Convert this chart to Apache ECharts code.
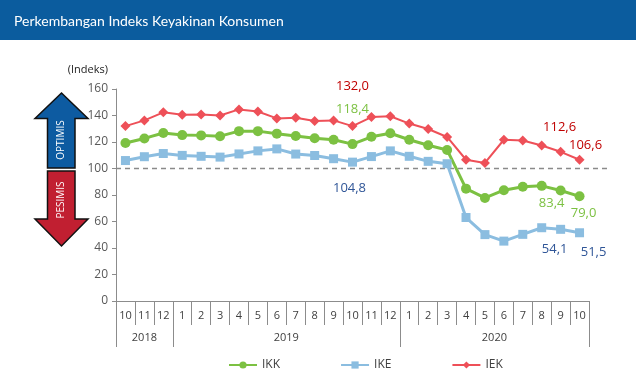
<!DOCTYPE html>
<html>
<head>
<meta charset="utf-8">
<script src="https://cdn.jsdelivr.net/npm/echarts@6/dist/echarts.min.js"></script>
<style>
  html, body { margin: 0; padding: 0; background: #fff; }
  #chart { width: 636px; height: 376px; }
</style>
</head>
<body>
<div id="chart"></div>
<script>
// data
const months = ['10', '11', '12', '1', '2', '3', '4', '5', '6', '7', '8', '9', '10', '11', '12',
  '1', '2', '3', '4', '5', '6', '7', '8', '9', '10'];
const years = ['2018', '2019', '2020'];
const yearStart = [0, 3, 15];   // first month index of each year
const ikk = [119.2, 122.7, 126.8, 125.2, 125.0, 124.4, 128.2, 128.2, 126.3, 124.5, 122.8, 121.7, 118.4,
  123.9, 126.6, 121.7, 117.5, 114.0, 84.8, 77.8, 83.6, 86.2, 86.9, 83.4, 79.0];
const ike = [106.0, 108.9, 111.3, 109.9, 109.2, 108.6, 111.0, 113.3, 114.8, 110.9, 109.8, 107.4, 104.8,
  109.0, 113.3, 109.2, 105.4, 103.6, 63.0, 50.1, 45.2, 50.3, 55.3, 54.1, 51.5];
const iek = [132.0, 136.3, 142.4, 140.5, 140.7, 140.0, 144.6, 143.0, 137.8, 138.3, 135.8, 136.3, 132.0,
  138.8, 139.4, 133.9, 129.8, 123.8, 106.6, 104.2, 121.7, 121.2, 117.4, 112.6, 106.6];
const baseline = 100;

const fmt = v => v.toFixed(1).replace('.', ',');

// which points get a value label, and where it sits
function withLabels(values, color, spots) {
  return values.map((v, i) => {
    const off = spots[i];
    if (!off) return v;
    return {
      value: v,
      label: {
        show: true, position: 'inside', offset: off,
        formatter: p => fmt(p.value),
        color: color, fontSize: 13, fontFamily: 'Open Sans'
      }
    };
  });
}

const chart = echarts.init(document.getElementById('chart'));

const grey = '#8c8c8c';
const txt = '#404040';

chart.setOption({
  animation: false,
  textStyle: { fontFamily: 'Open Sans' },
  title: {
    text: 'Perkembangan Indeks Keyakinan Konsumen',
    left: 9, top: 9,
    textStyle: { color: '#fff', fontSize: 14, fontWeight: 'normal', fontFamily: 'Lato' }
  },
  graphic: [
    { type: 'rect', z: -1, shape: { x: 0, y: 0, width: 636, height: 40 }, style: { fill: '#0b5c9e' } },
    // optimis arrow
    {
      type: 'polygon',
      shape: { points: [[61.5, 93], [88, 118.5], [75, 118.5], [75, 168], [47.5, 168], [47.5, 118.5], [35, 118.5]] },
      style: { fill: '#0d5ba1', stroke: '#111', lineWidth: 1.5 }
    },
    {
      type: 'text', x: 61.5, y: 140, rotation: Math.PI / 2,
      style: { text: 'OPTIMIS', fill: '#fff', fontSize: 10, fontFamily: 'Open Sans', align: 'center', verticalAlign: 'middle' }
    },
    // pesimis arrow
    {
      type: 'polygon',
      shape: { points: [[47.5, 171], [75, 171], [75, 219], [88, 219], [61.5, 246], [35, 219], [47.5, 219]] },
      style: { fill: '#c11f31', stroke: '#111', lineWidth: 1.5 }
    },
    {
      type: 'text', x: 61.5, y: 200, rotation: Math.PI / 2,
      style: { text: 'PESIMIS', fill: '#fff', fontSize: 10, fontFamily: 'Open Sans', align: 'center', verticalAlign: 'middle' }
    }
  ],
  legend: {
    data: ['IKK', 'IKE', 'IEK'],
    left: 223, top: 354,
    itemWidth: 28, itemHeight: 9, itemGap: 60,
    textStyle: { color: txt, fontSize: 12 }
  },
  grid: [
    { left: 116, right: 47, top: 89, bottom: 75 },
    { left: 116, right: 26, top: 89, bottom: 75 }
  ],
  xAxis: [
    {
      type: 'category', data: months, gridIndex: 0, position: 'bottom',
      axisLine: { lineStyle: { color: grey } },
      axisTick: { show: true, interval: 0, length: 24, lineStyle: { color: grey } },
      axisLabel: { interval: 0, margin: 9, color: txt, fontSize: 11 }
    },
    {
      // year separators
      type: 'category', data: months, gridIndex: 0, position: 'bottom',
      axisLine: { show: false },
      axisTick: { show: true, interval: i => yearStart.indexOf(i) >= 0, length: 46, lineStyle: { color: grey } },
      axisLabel: { show: false }
    },
    {
      // year labels, centred on each year's span
      type: 'value', gridIndex: 0, position: 'bottom', min: 0, max: months.length, interval: 0.5,
      axisLine: { show: false }, axisTick: { show: false }, splitLine: { show: false },
      axisLabel: {
        margin: 31, color: txt, fontSize: 11,
        formatter: v => {
          for (let k = 0; k < years.length; k++) {
            const end = k + 1 < yearStart.length ? yearStart[k + 1] : months.length;
            if (v === (yearStart[k] + end) / 2) return years[k];
          }
          return '';
        }
      }
    },
    { type: 'value', gridIndex: 1, min: 0, max: 1, show: false }
  ],
  yAxis: [
    {
      type: 'value', gridIndex: 0, min: 0, max: 160, interval: 20,
      name: '(Indeks)', nameLocation: 'end', nameGap: 14,
      nameTextStyle: { color: '#222', fontSize: 11, align: 'right', padding: [0, 8, 0, 0] },
      axisLine: { show: true, lineStyle: { color: grey } },
      axisTick: { show: true, length: 4, lineStyle: { color: grey } },
      splitLine: { show: false },
      axisLabel: { color: '#595959', fontSize: 12, margin: 8 }
    },
    { type: 'value', gridIndex: 1, min: 0, max: 160, show: false }
  ],
  series: [
    {
      name: 'baseline', type: 'line', xAxisIndex: 3, yAxisIndex: 1, silent: true,
      data: [[0, baseline], [1, baseline]], symbol: 'none',
      lineStyle: { color: '#8a8a8a', width: 1.6, type: [5, 4] }, z: 1
    },
    {
      name: 'IEK', type: 'line', xAxisIndex: 0, yAxisIndex: 0,
      data: withLabels(iek, '#c00000', { 12: [0, -40], 23: [-1, -25], 24: [6, -14] }),
      symbol: 'diamond', symbolSize: 10,
      itemStyle: { color: '#ee5058' }, lineStyle: { color: '#ee5058', width: 2 }, z: 3
    },
    {
      name: 'IKK', type: 'line', xAxisIndex: 0, yAxisIndex: 0,
      data: withLabels(ikk, '#7cc142', { 12: [0, -35], 23: [-9, 13], 24: [4, 17] }),
      symbol: 'circle', symbolSize: 10,
      itemStyle: { color: '#7cc142' }, lineStyle: { color: '#7cc142', width: 3 }, z: 4
    },
    {
      name: 'IKE', type: 'line', xAxisIndex: 0, yAxisIndex: 0,
      data: withLabels(ike, '#2f5597', { 12: [-3, 26], 23: [-6, 20], 24: [14, 20] }),
      symbol: 'rect', symbolSize: 9,
      itemStyle: { color: '#8bbde0' }, lineStyle: { color: '#8bbde0', width: 3 }, z: 5
    }
  ]
});
</script>
</body>
</html>
